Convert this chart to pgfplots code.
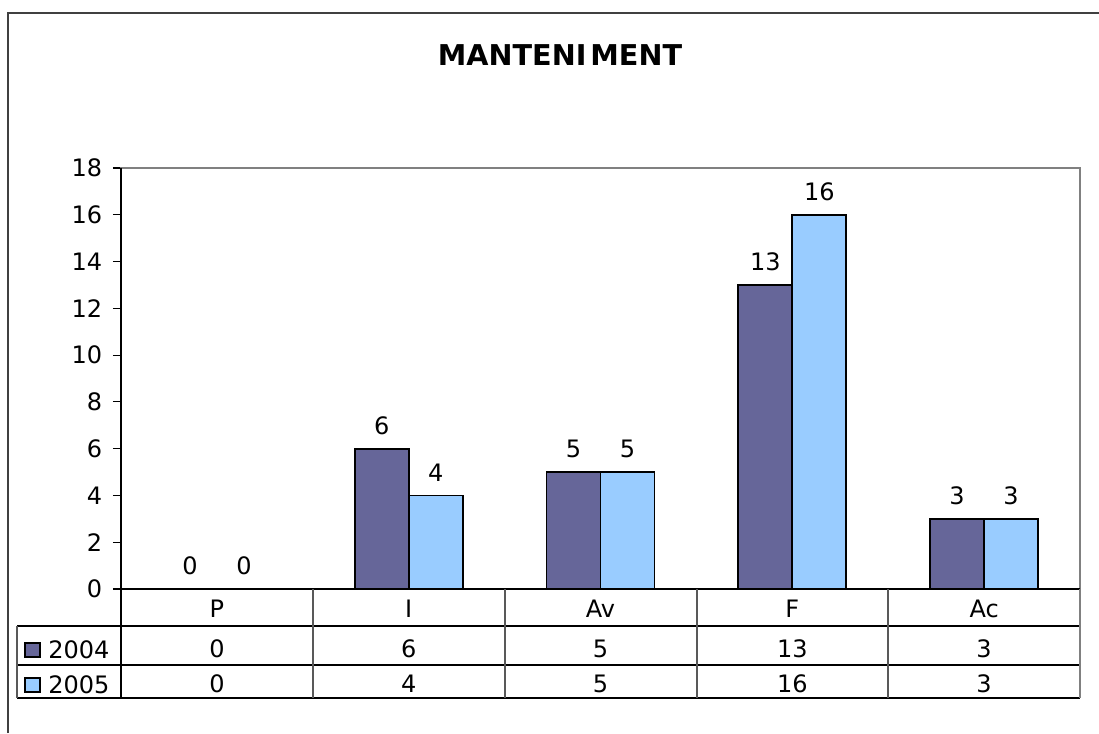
\documentclass[border=0pt]{standalone}
\usepackage{pgfplots}
\pgfplotsset{compat=1.18}
\usepackage{fontspec}
\setmainfont{DejaVu Sans}
\definecolor{ser1}{HTML}{666699}
\definecolor{ser2}{HTML}{99CCFF}
\definecolor{frm}{HTML}{404040}
\begin{document}
\begin{tikzpicture}[x=0.75pt,y=0.75pt,every node/.style={font=\fontsize{18}{21}\selectfont}]
\useasboundingbox (0,0) rectangle (1099,733);
% outer frame
\draw[frm, line width=1.2pt] (8,0) -- (8,720) -- (1099,720);
% title
\node[anchor=base, font=\fontsize{21.5}{24}\selectfont\bfseries] at (560,733-66) {MANTENI\kern3pt MENT};
\begin{axis}[
  at={(90.75pt,108pt)}, anchor=south west,
  scale only axis, width=719.25pt, height=315.75pt,
  xmin=-0.5, xmax=4.5, ymin=0, ymax=18,
  ytick={0,2,...,18}, xtick=\empty,
  ytick pos=left, tick align=outside, major tick length=6pt,
  tick style={black, line width=0.9pt},
  yticklabel style={font=\fontsize{18}{21}\selectfont, anchor=east, inner sep=0pt, xshift=-8pt},
  /pgf/number format/assume math mode=true,
  axis line style={draw=gray, line width=1.1pt},
  ybar=0pt, bar width=40.5pt,
  clip=false,
  nodes near coords,
  every node near coord/.append style={font=\fontsize{18}{21}\selectfont, inner sep=0pt, yshift=10pt, black},
]
\addplot[fill=ser1, draw=black, line width=1.4pt] coordinates {(0,0) (1,6) (2,5) (3,13) (4,3)};
\addplot[fill=ser2, draw=black, line width=1.4pt] coordinates {(0,0) (1,4) (2,5) (3,16) (4,3)};
\draw[black, line width=1.1pt] (axis cs:-0.5,18) -- (axis cs:-0.5,0) -- (axis cs:4.5,0);
\end{axis}
% data table
\begin{scope}[line width=1.1pt]
\draw[black] (17,733-626) -- (1080,733-626);
\draw[black] (17,733-665) -- (1080,733-665);
\draw[black] (17,733-698) -- (1080,733-698);
\draw[gray!70!black] (17,733-626) -- (17,733-698);
\draw[black] (121,733-589) -- (121,733-698);
\foreach \xx in {313,505,697,888} {\draw[gray!70!black] (\xx,733-589) -- (\xx,733-698);}
\draw[gray] (1080,733-589) -- (1080,733-698);
\end{scope}
% category labels
\foreach \c/\n in {216.9/P,408.7/I,600.5/Av,792.3/F,984.1/Ac} {\node[anchor=base, inner sep=0pt] at (\c,733-617) {\n};}
% row 2004
\draw[fill=ser1, draw=black, line width=1.2pt] (25,733-657) rectangle (40,733-643);
\node[anchor=base west, inner sep=0pt] at (48,733-658) {2004};
\foreach \c/\n in {216.9/0,408.7/6,600.5/5,792.3/13,984.1/3} {\node[anchor=base, inner sep=0pt] at (\c,733-657) {\n};}
% row 2005
\draw[fill=ser2, draw=black, line width=1.2pt] (25,733-692) rectangle (40,733-678);
\node[anchor=base west, inner sep=0pt] at (48,733-693) {2005};
\foreach \c/\n in {216.9/0,408.7/4,600.5/5,792.3/16,984.1/3} {\node[anchor=base, inner sep=0pt] at (\c,733-692) {\n};}
\end{tikzpicture}
\end{document}
